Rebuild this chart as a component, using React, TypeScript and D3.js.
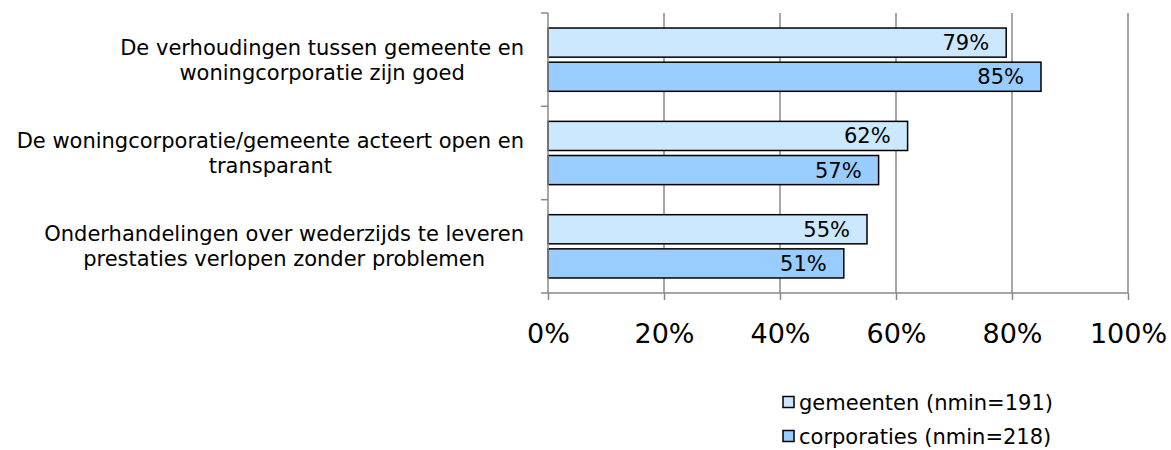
import React, { useRef, useEffect } from 'react';
import * as d3 from 'd3';

const categories = [
  ['De verhoudingen tussen gemeente en', 'woningcorporatie zijn goed'],
  ['De woningcorporatie/gemeente acteert open en', 'transparant'],
  ['Onderhandelingen over wederzijds te leveren', 'prestaties verlopen zonder problemen'],
];
const seriesNames = ['gemeenten (nmin=191)', 'corporaties (nmin=218)'];
const gemeenten = [79, 62, 55];
const corporaties = [85, 57, 51];
const xTicks = [0, 20, 40, 60, 80, 100];
const colors = ['#CCE8FF', '#99CCFF'];

export default function App() {
  const ref = useRef<SVGSVGElement>(null);

  useEffect(() => {
    const svg = d3.select(ref.current);
    svg.selectAll('*').remove();
    const font = 'Verdana, "DejaVu Sans", sans-serif';
    const margin = { left: 548, right: 43, top: 13, bottom: 157 };
    const W = 1171, H = 450;

    const x = d3.scaleLinear().domain([0, 100]).range([margin.left, W - margin.right]);
    const y = d3.scaleBand<number>()
      .domain(d3.range(categories.length))
      .range([margin.top, H - margin.bottom]);
    const inner = d3.scaleBand<number>()
      .domain([0, 1])
      .range([0, y.bandwidth()])
      .paddingInner(0.147)
      .paddingOuter(0.44);

    // gridlines
    svg.append('g')
      .selectAll('line')
      .data(xTicks.slice(1))
      .join('line')
      .attr('x1', d => x(d)).attr('x2', d => x(d))
      .attr('y1', margin.top).attr('y2', H - margin.bottom)
      .attr('stroke', '#888').attr('stroke-width', 1.5);

    const series = [gemeenten, corporaties];
    series.forEach((vals, s) => {
      const g = svg.append('g');
      g.selectAll('rect')
        .data(vals)
        .join('rect')
        .attr('x', x(0))
        .attr('y', (_, i) => y(i)! + inner(s)!)
        .attr('width', d => x(d) - x(0))
        .attr('height', inner.bandwidth())
        .attr('fill', colors[s])
        .attr('stroke', '#000')
        .attr('stroke-width', 1.5);
      g.selectAll('text')
        .data(vals)
        .join('text')
        .attr('x', d => x(d) - 17)
        .attr('y', (_, i) => y(i)! + inner(s)! + inner.bandwidth() / 2)
        .attr('dy', '0.36em')
        .attr('text-anchor', 'end')
        .attr('font-family', font)
        .attr('font-size', 21)
        .attr('fill', '#000')
        .text(d => d + '%');
    });

    // left axis
    const yAxis = svg.append('g');
    yAxis.append('line')
      .attr('x1', x(0)).attr('x2', x(0))
      .attr('y1', margin.top).attr('y2', H - margin.bottom)
      .attr('stroke', '#888').attr('stroke-width', 1.5);
    yAxis.selectAll('line.tick')
      .data(d3.range(categories.length + 1))
      .join('line')
      .attr('class', 'tick')
      .attr('x1', x(0) - 7).attr('x2', x(0))
      .attr('y1', i => margin.top + i * y.step())
      .attr('y2', i => margin.top + i * y.step())
      .attr('stroke', '#888').attr('stroke-width', 1.5);

    // bottom axis
    const xAxis = svg.append('g')
      .attr('transform', `translate(0,${H - margin.bottom})`)
      .call(d3.axisBottom(x).tickValues(xTicks).tickSize(7).tickPadding(24).tickFormat(d => d + '%'));
    xAxis.selectAll('path, line').attr('stroke', '#888').attr('stroke-width', 1.5);
    xAxis.select('.domain').attr('d', `M${x(0)},0H${x(100)}`);
    xAxis.selectAll('text')
      .attr('font-family', font)
      .attr('font-size', 27)
      .attr('fill', '#000');

    // category labels
    const labelRight = 524;
    categories.forEach((lines, i) => {
      const cy = y(i)! + y.bandwidth() / 2;
      const t = svg.append('text')
        .attr('font-family', font)
        .attr('font-size', 21)
        .attr('fill', '#000')
        .attr('text-anchor', 'middle');
      const spans = lines.map((l, j) => t.append('tspan')
        .attr('y', cy + (j - (lines.length - 1) / 2) * 25)
        .attr('dy', '0.36em')
        .text(l));
      const maxW = d3.max(spans, sp => (sp.node() as SVGTSPanElement).getComputedTextLength()) || 0;
      spans.forEach(sp => sp.attr('x', labelRight - maxW / 2));
    });

    // legend
    const legend = svg.append('g').attr('transform', 'translate(783,402)');
    seriesNames.forEach((name, i) => {
      const row = legend.append('g').attr('transform', `translate(0,${i * 34})`);
      row.append('rect')
        .attr('x', 0).attr('y', -5.5)
        .attr('width', 11).attr('height', 11)
        .attr('fill', colors[i]).attr('stroke', '#000').attr('stroke-width', 1.5);
      row.append('text')
        .attr('x', 16).attr('y', 0).attr('dy', '0.36em')
        .attr('font-family', font).attr('font-size', 21).attr('fill', '#000')
        .text(name);
    });
  }, []);

  return (
    <svg ref={ref} width={1171} height={450}
      style={{ position: 'absolute', left: 0, top: 0, background: '#fff' }} />
  );
}
